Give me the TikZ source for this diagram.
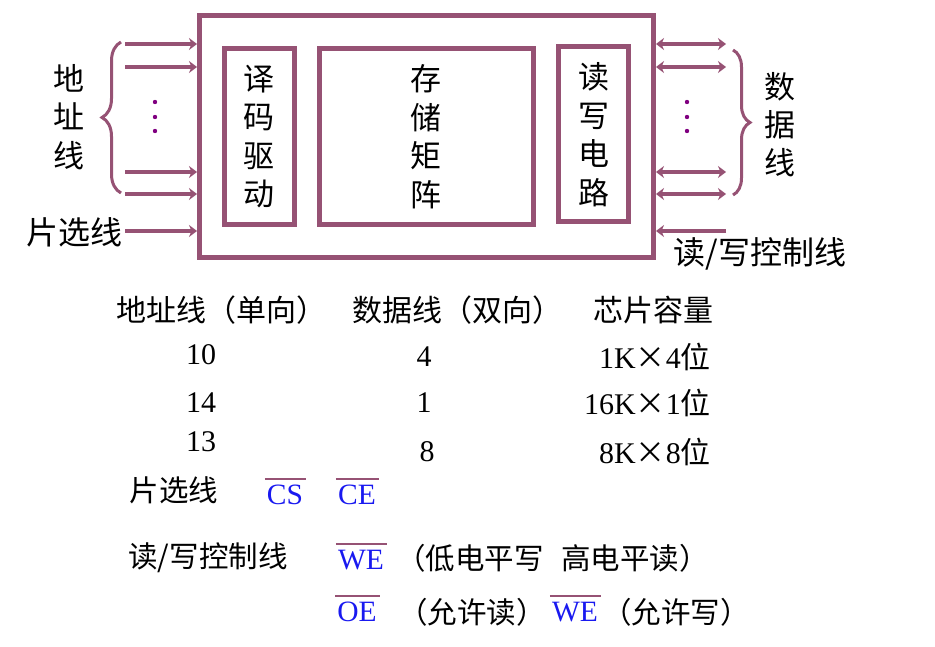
\documentclass[tikz,border=0pt]{standalone}
\usepackage{fontspec}
\setmainfont{Liberation Serif}
\newfontfamily\cjk{Noto Sans CJK SC}
\usetikzlibrary{arrows.meta,decorations.pathreplacing}
\definecolor{bar}{RGB}{150,82,116}
\definecolor{sigblue}{RGB}{25,25,240}
\definecolor{dotc}{RGB}{128,0,128}
\tikzset{
  tip/.tip={Stealth[length=8pt,width=12pt,inset=2.5pt]},
}
\begin{document}
\begin{tikzpicture}[x=1pt,y=-1pt,
  box/.style={draw=bar,line width=5pt,inner sep=0pt},
  arr/.style={draw=bar,line width=3.5pt,-tip},
  darr/.style={draw=bar,line width=3.5pt,tip-tip},
  brc/.style={draw=bar,line width=3pt,decorate,decoration={brace,amplitude=19pt,raise=0pt}},
  vtxt/.style={align=center,font=\fontsize{31}{38.5}\selectfont\cjk,inner sep=0pt},
  lbl/.style={font=\fontsize{32}{38}\selectfont\cjk,inner sep=0pt},
  tt/.style={font=\fontsize{30}{36}\selectfont,inner sep=0pt},
  bt/.style={font=\fontsize{29.5}{35}\selectfont,inner sep=0pt},
  sig/.style={font=\fontsize{29.5}{35}\selectfont,text=sigblue,inner sep=0pt},
  ovl/.style={draw=bar,line width=2pt},
]
\useasboundingbox (0,0) rectangle (935,647);
% main boxes
\node[box,minimum width=454pt,minimum height=242.5pt] (outer) at (426.5,136.75) {};
\node[box,vtxt,minimum width=70pt,minimum height=175.5pt] (dec) at (259,136.75) {译\\码\\驱\\动};
\node[box,vtxt,minimum width=214.5pt,minimum height=175.5pt] (mat) at (426.25,136.75) {存\\储\\矩\\阵};
\node[box,vtxt,minimum width=70pt,minimum height=175pt] (rw) at (593.5,134.5) {读\\写\\电\\路};
% left arrows
\coordinate (l1) at (125,44);
\coordinate (l2) at (125,67);
\coordinate (l3) at (125,172);
\coordinate (l4) at (125,194);
\coordinate (l5) at (125,231);
\foreach \p in {l1,l2,l3,l4,l5} \draw[arr] (\p) -- (\p -| outer.west);
% right arrows
\coordinate (r1) at (726,44);
\coordinate (r2) at (726,67);
\coordinate (r3) at (726,172);
\coordinate (r4) at (726,194);
\coordinate (r5) at (726,231);
\foreach \p in {r1,r2,r3,r4} \draw[darr] (\p -| outer.east) -- (\p);
\draw[arr] (r5) -- (r5 -| outer.east);
% braces
\coordinate (lb1) at (121,193);
\coordinate (lb2) at (121,42);
\draw[brc] (lb1) -- (lb2);
\coordinate (rb1) at (733,50);
\coordinate (rb2) at (733,195);
\draw[brc,decoration={amplitude=17pt}] (rb1) -- (rb2);
% dots
\foreach \y in {102,117,131} {
  \fill[dotc] (155,\y) circle (2.2);
  \fill[dotc] (687,\y) circle (2.2);
}
% labels
\node[vtxt] (addr) at (69,117) {地\\址\\线};
\node[vtxt,font=\fontsize{31}{38}\selectfont\cjk] (data) at (780,125) {数\\据\\线};
\node[lbl] (cslbl) at (75,232) {片选线};
\node[lbl] (rwlbl) at (760,254) {读/写控制线};
% table
\node[tt] (h1) at (221,310) {\cjk 地址线（单向）};
\node[tt] (h2) at (457,310) {\cjk 数据线（双向）};
\node[tt] (h3) at (653,310) {\cjk 芯片容量};
\node[tt] (a1) at (201,355) {10};
\node[tt] (a2) at (201,403) {14};
\node[tt] (a3) at (201,442) {13};
\node[tt] (d1) at (424,357) {4};
\node[tt] (d2) at (424,403) {1};
\node[tt] (d3) at (427,452) {8};
\node[tt,anchor=east] (c1) at (711,357) {1K{\cjk ×}4{\cjk 位}};
\node[tt,anchor=east] (c2) at (711,403) {16K{\cjk ×}1{\cjk 位}};
\node[tt,anchor=east] (c3) at (711,452) {8K{\cjk ×}8{\cjk 位}};
% bottom
\node[bt] (pxl) at (174,490) {\cjk 片选线};
\node[sig] (cs) at (285,495) {CS};
\node[sig] (ce) at (357,495) {CE};
\node[bt] (rwl) at (208,558) {\cjk 读/写控制线};
\node[sig] (we1) at (361,560) {WE};
\node[bt,anchor=west] (we1t) at (396,558) {\cjk （低电平写\hspace{0.6em}高电平读）};
\node[sig] (oe) at (357,612) {OE};
\node[bt,anchor=west] (oet) at (398,612) {\cjk （允许读）};
\node[sig] (we2) at (575,612) {WE};
\node[bt,anchor=west] (we2t) at (602,612) {\cjk （允许写）};
\foreach \n in {cs,ce,we1,oe,we2}
  \draw[ovl] ([xshift=-2pt,yshift=6pt]\n.north west) -- ([xshift=3pt,yshift=6pt]\n.north east);
\end{tikzpicture}
\end{document}
